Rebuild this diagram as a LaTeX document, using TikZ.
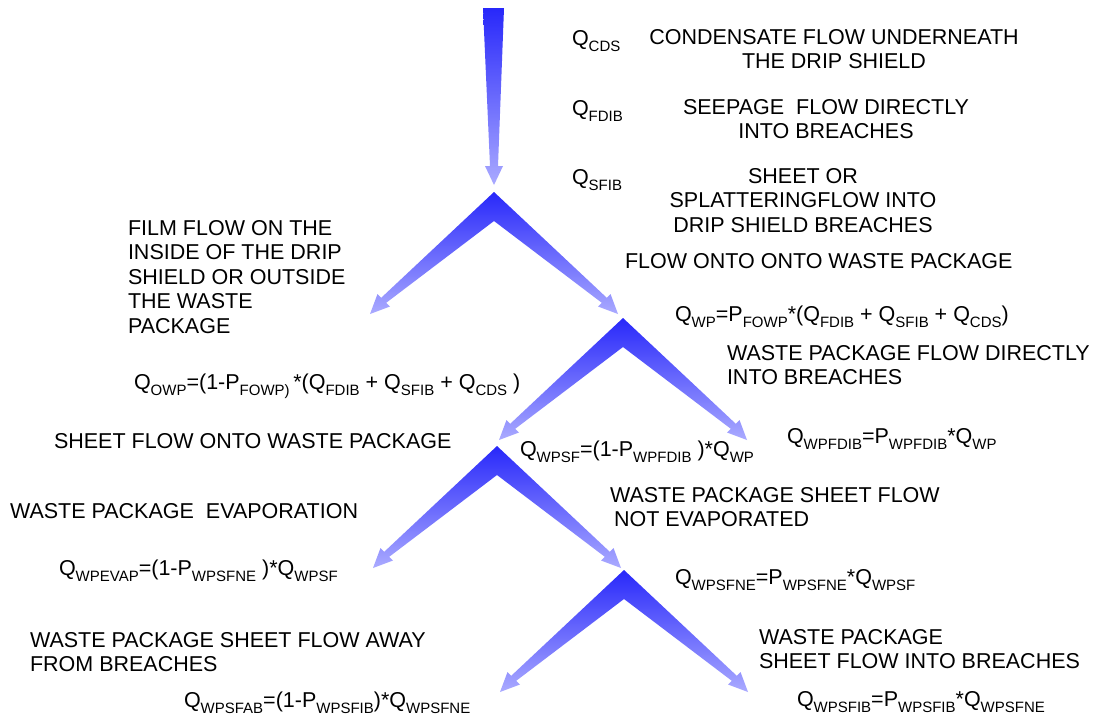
\documentclass[tikz,border=0pt]{standalone}
\usepackage{fontspec}
\setmainfont{Liberation Sans}
\newcommand\lowtxt[1]{\raisebox{-6pt}{\fontsize{15}{15}\selectfont #1}}
\definecolor{dblue}{RGB}{40,40,250}
\definecolor{lblue}{RGB}{170,170,255}
\tikzset{
  txt/.style={font=\fontsize{21.5}{24.5}\selectfont, inner sep=0pt, outer sep=0pt},
  blk/.style={txt, align=left, anchor=north west},
  cblk/.style={txt, align=center, anchor=north},
  one/.style={txt, anchor=base west},
  flow/.style={top color=dblue, bottom color=lblue, draw=none},
  chev/.pic={
    \shade[flow] (0,0) -- (-112.8,105.8) -- (-116.5,102) -- (-124,122) -- (-104,114.5) -- (-107.8,110.8)
      -- (0,29) -- (107.8,110.8) -- (104,114.5) -- (124,122) -- (116.5,102) -- (112.8,105.8) -- cycle;
    \coordinate (-apex) at (0,0);
    \coordinate (-tl) at (-124,122);
    \coordinate (-tr) at (124,122);
  }
}
\begin{document}
\begin{tikzpicture}[x=1pt,y=-1pt]
\useasboundingbox (0,0) rectangle (1105,721);
\fill[white] (0,0) rectangle (1105,721);

% incoming flow arrow
\shade[flow] (483,8) -- (504,8) -- (498,166) -- (503,166) -- (494,185) -- (485,166) -- (490,166) -- cycle;

% branching chevrons
\pic (c1) at (494,192) {chev};
\pic (c2) at (623,318) {chev};
\pic (c3) at (497,446) {chev};
\pic (c4) at (624,570) {chev};

% legend
\node[one] (qcds) at (572,45) {Q\lowtxt{CDS}};
\node[cblk] (cds) at (834,29) {CONDENSATE FLOW UNDERNEATH\\THE DRIP SHIELD};
\node[one] (qfdib) at (572,115) {Q\lowtxt{FDIB}};
\node[cblk] (fdib) at (826,99) {SEEPAGE~ FLOW DIRECTLY\\INTO BREACHES};
\node[one] (qsfib) at (572,184) {Q\lowtxt{SFIB}};
\node[cblk] (sfib) at (803,168) {SHEET OR\\SPLATTERINGFLOW INTO\\DRIP SHIELD BREACHES};

% level 1
\node[blk] (film) at (128,220) {FILM FLOW ON THE\\INSIDE OF THE DRIP\\SHIELD OR OUTSIDE\\THE WASTE\\PACKAGE};
\node[one] (fowp) at (134,389) {Q\lowtxt{OWP}=(1-P\lowtxt{FOWP)}\,*(Q\lowtxt{FDIB} + Q\lowtxt{SFIB} + Q\lowtxt{CDS} )};
\node[one] (onto) at (625,268) {FLOW ONTO ONTO WASTE PACKAGE};
\node[one] (fwp) at (675,321) {Q\lowtxt{WP}=P\lowtxt{FOWP}*(Q\lowtxt{FDIB} + Q\lowtxt{SFIB} + Q\lowtxt{CDS})};

% level 2
\node[blk] (wpdir) at (727,345) {WASTE PACKAGE FLOW DIRECTLY\\INTO BREACHES};
\node[one] (sheetonto) at (54,448) {SHEET FLOW ONTO WASTE PACKAGE};
\node[one] (fwpsf) at (520,456) {Q\lowtxt{WPSF}=(1-P\lowtxt{WPFDIB} )*Q\lowtxt{WP}};
\node[one] (fwpfdib) at (787,443) {Q\lowtxt{WPFDIB}=P\lowtxt{WPFDIB}*Q\lowtxt{WP}};

% level 3
\node[one] (evap) at (10,518) {WASTE PACKAGE~ EVAPORATION};
\node[blk] (notevap) at (610,487) {WASTE PACKAGE SHEET FLOW\\\hspace*{4pt}NOT EVAPORATED};
\node[one] (fevap) at (59,575) {Q\lowtxt{WPEVAP}=(1-P\lowtxt{WPSFNE} )*Q\lowtxt{WPSF}};
\node[one] (fsfne) at (675,584) {Q\lowtxt{WPSFNE}=P\lowtxt{WPSFNE}*Q\lowtxt{WPSF}};

% level 4
\node[blk] (away) at (30,632) {WASTE PACKAGE SHEET FLOW AWAY\\FROM BREACHES};
\node[blk] (into) at (759,629) {WASTE PACKAGE\\SHEET FLOW INTO BREACHES};
\node[one] (fsfab) at (184,707) {Q\lowtxt{WPSFAB}=(1-P\lowtxt{WPSFIB})*Q\lowtxt{WPSFNE}};
\node[one] (fsfib) at (797,706) {Q\lowtxt{WPSFIB}=P\lowtxt{WPSFIB}*Q\lowtxt{WPSFNE}};
\end{tikzpicture}
\end{document}
